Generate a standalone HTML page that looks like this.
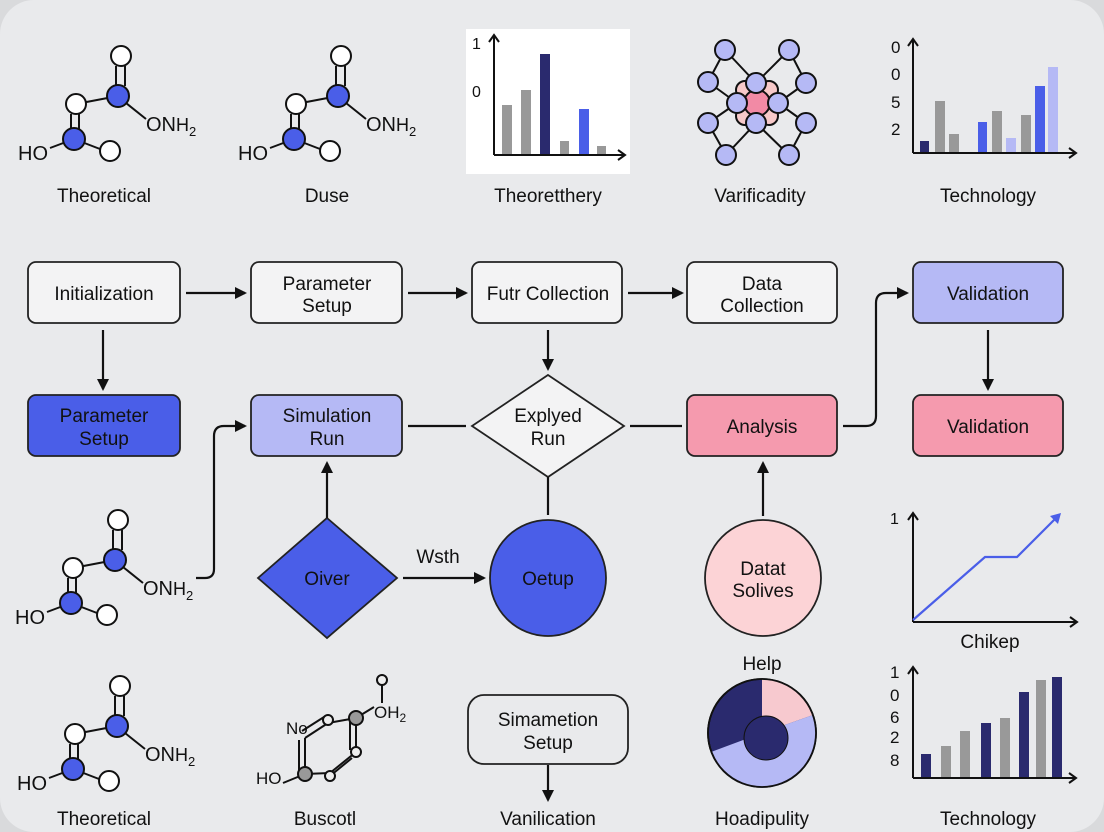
<!DOCTYPE html>
<html><head><meta charset="utf-8"><style>
html,body{margin:0;padding:0;background:#d9dadc;}
svg{display:block}
text{font-family:"Liberation Sans",sans-serif;fill:#111;}
</style></head><body>
<svg width="1104" height="832" viewBox="0 0 1104 832" xmlns="http://www.w3.org/2000/svg">
<defs>
<marker id="ah" markerWidth="12" markerHeight="12" refX="10" refY="6" orient="auto" markerUnits="userSpaceOnUse"><path d="M0,0 L12,6 L0,12 z" fill="#111"/></marker>
<g id="mol" stroke="#111" stroke-width="2">
<line x1="118" y1="96" x2="76" y2="104"/>
<line x1="116" y1="66" x2="116" y2="86"/><line x1="125" y1="66" x2="125" y2="86"/>
<line x1="71" y1="114" x2="71" y2="129"/><line x1="79" y1="114" x2="79" y2="129"/>
<line x1="126" y1="103" x2="146" y2="119"/>
<line x1="74" y1="139" x2="100" y2="149"/>
<line x1="74" y1="139" x2="50" y2="148"/>
<circle cx="121" cy="56" r="10" fill="#fff"/>
<circle cx="118" cy="96" r="11" fill="#4a5ee8"/>
<circle cx="76" cy="104" r="10" fill="#fff"/>
<circle cx="74" cy="139" r="11" fill="#4a5ee8"/>
<circle cx="110" cy="151" r="10" fill="#fff"/>
<text x="18" y="160" font-size="20" stroke="none">HO</text>
<text x="146" y="131" font-size="20" stroke="none">ON<tspan font-size="18">H</tspan><tspan font-size="13" dy="5">2</tspan></text>
</g>
</defs>
<rect x="0" y="0" width="1104" height="832" rx="34" fill="#e9eaec"/>

<use href="#mol"/>
<use href="#mol" transform="translate(220,0)"/>
<text x="104" y="202" font-size="19" text-anchor="middle">Theoretical</text>
<text x="327" y="202" font-size="19" text-anchor="middle">Duse</text>

<rect x="466" y="29" width="164" height="145" fill="#fff"/>
<g fill="#999"><rect x="502" y="105" width="10" height="50"/><rect x="521" y="90" width="10" height="65"/><rect x="560" y="141" width="9" height="14"/><rect x="597" y="146" width="9" height="9"/></g>
<rect x="540" y="54" width="10" height="101" fill="#2a2a6e"/>
<rect x="579" y="109" width="10" height="46" fill="#4a5ee8"/>
<g stroke="#111" stroke-width="2" fill="none"><path d="M494,155 V36 M489,42 L494,35 L499,42"/><path d="M494,155 H624 M618,150 L625,155 L618,160"/></g>
<text x="472" y="49" font-size="16">1</text><text x="472" y="97" font-size="16">0</text>
<text x="548" y="202" font-size="19" text-anchor="middle">Theoretthery</text>

<g stroke="#111" stroke-width="2">
<line x1="725" y1="50" x2="756" y2="83"/><line x1="789" y1="50" x2="756" y2="83"/>
<line x1="708" y1="82" x2="737" y2="103"/><line x1="806" y1="83" x2="778" y2="103"/>
<line x1="708" y1="123" x2="737" y2="103"/><line x1="806" y1="123" x2="778" y2="103"/>
<line x1="726" y1="155" x2="756" y2="123"/><line x1="789" y1="155" x2="756" y2="123"/>
<line x1="725" y1="50" x2="708" y2="82"/><line x1="789" y1="50" x2="806" y2="83"/>
<line x1="708" y1="123" x2="726" y2="155"/><line x1="806" y1="123" x2="789" y2="155"/>
<circle cx="745" cy="90" r="9" fill="#f7c9c9"/><circle cx="769" cy="90" r="9" fill="#f7c9c9"/>
<circle cx="745" cy="116" r="9" fill="#f7c9c9"/><circle cx="769" cy="116" r="9" fill="#f7c9c9"/>
<circle cx="757" cy="103" r="13" fill="#f28aa5"/>
<g fill="#b5b9f5">
<circle cx="725" cy="50" r="10"/><circle cx="789" cy="50" r="10"/><circle cx="708" cy="82" r="10"/><circle cx="806" cy="83" r="10"/>
<circle cx="708" cy="123" r="10"/><circle cx="806" cy="123" r="10"/><circle cx="726" cy="155" r="10"/><circle cx="789" cy="155" r="10"/>
<circle cx="756" cy="83" r="10"/><circle cx="737" cy="103" r="10"/><circle cx="778" cy="103" r="10"/><circle cx="756" cy="123" r="10"/>
</g></g>
<text x="760" y="202" font-size="19" text-anchor="middle">Varificadity</text>

<rect x="920" y="141" width="9" height="12" fill="#2a2a6e"/>
<g fill="#999"><rect x="935" y="101" width="10" height="52"/><rect x="949" y="134" width="10" height="19"/><rect x="992" y="111" width="10" height="42"/><rect x="1021" y="115" width="10" height="38"/></g>
<rect x="978" y="122" width="9" height="31" fill="#4a5ee8"/><rect x="1035" y="86" width="10" height="67" fill="#4a5ee8"/>
<rect x="1006" y="138" width="10" height="15" fill="#b5b9f5"/><rect x="1048" y="67" width="10" height="86" fill="#b5b9f5"/>
<g stroke="#111" stroke-width="2" fill="none"><path d="M913,153 V40 M908,46 L913,39 L918,46"/><path d="M913,153 H1075 M1069,148 L1076,153 L1069,158"/></g>
<g font-size="17"><text x="891" y="53">0</text><text x="891" y="80">0</text><text x="891" y="108">5</text><text x="891" y="135">2</text></g>
<text x="988" y="202" font-size="19" text-anchor="middle">Technology</text>

<g stroke="#222" stroke-width="1.8">
<rect x="28" y="262" width="152" height="61" rx="8" fill="#f3f3f4"/>
<rect x="251" y="262" width="151" height="61" rx="8" fill="#f3f3f4"/>
<rect x="472" y="262" width="150" height="61" rx="8" fill="#f3f3f4"/>
<rect x="687" y="262" width="150" height="61" rx="8" fill="#f3f3f4"/>
<rect x="913" y="262" width="150" height="61" rx="8" fill="#b5b9f5"/>
<rect x="28" y="395" width="152" height="61" rx="8" fill="#4a5ee8"/>
<rect x="251" y="395" width="151" height="61" rx="8" fill="#b5b9f5"/>
<polygon points="548,375 624,426 548,477 472,426" fill="#f3f3f4"/>
<rect x="687" y="395" width="150" height="61" rx="8" fill="#f59aae"/>
<rect x="913" y="395" width="150" height="61" rx="8" fill="#f59aae"/>
<polygon points="327,518 397,578 327,638 258,578" fill="#4a5ee8"/>
<circle cx="548" cy="578" r="58" fill="#4a5ee8"/>
<circle cx="763" cy="578" r="58" fill="#fcd3d6"/>
</g>
<g font-size="19" text-anchor="middle">
<text x="104" y="300">Initialization</text>
<text x="327" y="290">Parameter</text><text x="327" y="312">Setup</text>
<text x="548" y="300">Futr Collection</text>
<text x="762" y="290">Data</text><text x="762" y="312">Collection</text>
<text x="988" y="300">Validation</text>
<text x="104" y="422" fill="#1a1a4a">Parameter</text><text x="104" y="445" fill="#1a1a4a">Setup</text>
<text x="327" y="422">Simulation</text><text x="327" y="445">Run</text>
<text x="548" y="422">Explyed</text><text x="548" y="445">Run</text>
<text x="762" y="433">Analysis</text>
<text x="988" y="433">Validation</text>
<text x="327" y="585" fill="#e8eaff">Oiver</text>
<text x="548" y="585" fill="#e8eaff">Oetup</text>
<text x="763" y="575">Datat</text><text x="763" y="597">Solives</text>
<text x="438" y="563">Wsth</text>
</g>

<g stroke="#111" stroke-width="2.2" fill="none">
<line x1="186" y1="293" x2="245" y2="293" marker-end="url(#ah)"/>
<line x1="408" y1="293" x2="466" y2="293" marker-end="url(#ah)"/>
<line x1="628" y1="293" x2="682" y2="293" marker-end="url(#ah)"/>
<line x1="103" y1="330" x2="103" y2="389" marker-end="url(#ah)"/>
<line x1="548" y1="330" x2="548" y2="369" marker-end="url(#ah)"/>
<line x1="988" y1="330" x2="988" y2="389" marker-end="url(#ah)"/>
<line x1="408" y1="426" x2="466" y2="426"/>
<line x1="630" y1="426" x2="682" y2="426"/>
<line x1="548" y1="477" x2="548" y2="515"/>
<line x1="327" y1="518" x2="327" y2="463" marker-end="url(#ah)"/>
<line x1="763" y1="516" x2="763" y2="463" marker-end="url(#ah)"/>
<line x1="403" y1="578" x2="484" y2="578" marker-end="url(#ah)"/>
<path d="M843,426 H866 Q876,426 876,416 V303 Q876,293 886,293 H907" marker-end="url(#ah)"/>
<path d="M196,578 H205 Q214,578 214,569 V436 Q214,426 224,426 H245" marker-end="url(#ah)"/>
<line x1="548" y1="765" x2="548" y2="800" marker-end="url(#ah)"/>
</g>

<use href="#mol" transform="translate(-3,464)"/>
<use href="#mol" transform="translate(-1,630)"/>
<text x="104" y="825" font-size="19" text-anchor="middle">Theoretical</text>

<g stroke="#111" stroke-width="2">
<line x1="305" y1="738" x2="328" y2="723"/><line x1="302" y1="731" x2="324" y2="717"/>
<line x1="328" y1="723" x2="356" y2="718"/>
<line x1="356" y1="718" x2="356" y2="752"/><line x1="350" y1="722" x2="350" y2="750"/>
<line x1="356" y1="752" x2="330" y2="773"/><line x1="352" y1="758" x2="330" y2="776"/>
<line x1="330" y1="773" x2="305" y2="774"/>
<line x1="305" y1="774" x2="305" y2="738"/><line x1="299" y1="770" x2="299" y2="740"/>
<line x1="356" y1="718" x2="374" y2="707"/><line x1="382" y1="703" x2="382" y2="684"/>
<line x1="305" y1="774" x2="283" y2="783"/>
<circle cx="328" cy="720" r="5" fill="#eee"/>
<circle cx="356" cy="718" r="7" fill="#999"/>
<circle cx="356" cy="752" r="5" fill="#eee"/>
<circle cx="330" cy="776" r="5" fill="#eee"/>
<circle cx="305" cy="774" r="7" fill="#999"/>
<circle cx="382" cy="680" r="5" fill="#eee"/>
</g>
<text x="286" y="734" font-size="17">No</text>
<text x="374" y="718" font-size="17">OH<tspan font-size="12" dy="4">2</tspan></text>
<text x="256" y="784" font-size="17">HO</text>
<text x="325" y="825" font-size="19" text-anchor="middle">Buscotl</text>

<rect x="468" y="695" width="160" height="69" rx="16" fill="none" stroke="#222" stroke-width="1.8"/>
<text x="548" y="726" font-size="19" text-anchor="middle">Simametion</text>
<text x="548" y="749" font-size="19" text-anchor="middle">Setup</text>
<text x="548" y="825" font-size="19" text-anchor="middle">Vanilication</text>

<text x="762" y="670" font-size="19" text-anchor="middle">Help</text>
<g stroke="#111" stroke-width="1.8">
<circle cx="762" cy="733" r="54" fill="#2a2a6e"/>
<path d="M762,733 L762,679 A54,54 0 0,1 813,715 Z" fill="#f7c9cf" stroke="none"/>
<path d="M762,733 L813,715 A54,54 0 0,1 711,752 Z" fill="#b5b9f5" stroke="none"/>
<circle cx="766" cy="738" r="22" fill="#2a2a6e" stroke="#111" stroke-width="1"/>
<circle cx="762" cy="733" r="54" fill="none"/>
</g>
<text x="762" y="825" font-size="19" text-anchor="middle">Hoadipulity</text>

<g stroke="#111" stroke-width="2" fill="none"><path d="M913,622 V514 M908,520 L913,513 L918,520"/><path d="M913,622 H1076 M1070,617 L1077,622 L1070,627"/></g>
<path d="M913,620 L985,557 L1017,557 L1056,518" stroke="#4a5ee8" stroke-width="2.2" fill="none"/>
<path d="M1061,513 L1050,516 L1058,524 Z" fill="#4a5ee8"/>
<text x="890" y="524" font-size="16">1</text>
<text x="990" y="648" font-size="19" text-anchor="middle">Chikep</text>

<g fill="#2a2a6e"><rect x="921" y="754" width="10" height="24"/><rect x="981" y="723" width="10" height="55"/><rect x="1019" y="692" width="10" height="86"/><rect x="1052" y="677" width="10" height="101"/></g>
<g fill="#999"><rect x="941" y="746" width="10" height="32"/><rect x="960" y="731" width="10" height="47"/><rect x="1000" y="718" width="10" height="60"/><rect x="1036" y="680" width="10" height="98"/></g>
<g stroke="#111" stroke-width="2" fill="none"><path d="M913,778 V668 M908,674 L913,667 L918,674"/><path d="M913,778 H1075 M1069,773 L1076,778 L1069,783"/></g>
<g font-size="17"><text x="890" y="678">1</text><text x="890" y="701">0</text><text x="890" y="723">6</text><text x="890" y="743">2</text><text x="890" y="766">8</text></g>
<text x="988" y="825" font-size="19" text-anchor="middle">Technology</text>
</svg>
</body></html>
